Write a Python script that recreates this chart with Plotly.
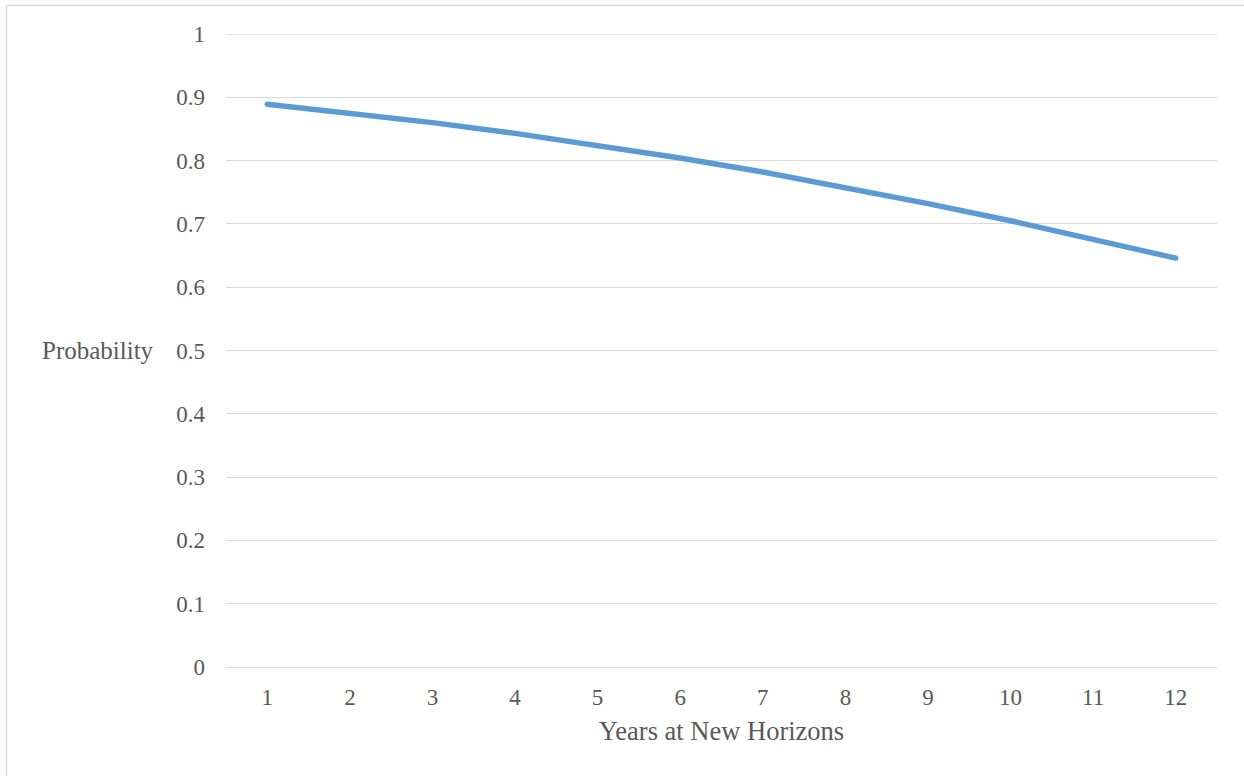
import plotly.graph_objects as go

years = [1, 2, 3, 4, 5, 6, 7, 8, 9, 10, 11, 12]
probability = [0.889, 0.875, 0.860, 0.843, 0.824, 0.804, 0.782, 0.758, 0.732, 0.705, 0.676, 0.646]
y_ticks = [0, 0.1, 0.2, 0.3, 0.4, 0.5, 0.6, 0.7, 0.8, 0.9, 1]
y_tick_labels = ["0", "0.1", "0.2", "0.3", "0.4", "0.5", "0.6", "0.7", "0.8", "0.9", "1"]

W, H = 1244, 776
L, R, T, B = 226, 27, 34, 109
pw, ph = W - L - R, H - T - B

font_family = "Liberation Serif, Times New Roman, serif"
text_color = "#595959"
grid_color = "#D9D9D9"

fig = go.Figure()
fig.add_trace(go.Scatter(
    x=years, y=probability, mode="lines",
    line=dict(color="#5B9BD5", width=5.5),
    showlegend=False, hoverinfo="skip",
))

fig.update_layout(
    width=W, height=H,
    margin=dict(l=L, r=R, t=T, b=B),
    paper_bgcolor="white", plot_bgcolor="white",
    font=dict(family=font_family, color=text_color, size=23),
    xaxis=dict(
        range=[0.5, 12.5], tickmode="array", tickvals=years,
        ticktext=[str(v) for v in years],
        showgrid=False, zeroline=False, showline=False, ticks="",
        ticklabelstandoff=14,
        tickfont=dict(size=23, family=font_family, color=text_color),
        title=dict(text="Years at New Horizons", standoff=12,
                   font=dict(size=26.5, family=font_family, color=text_color)),
        fixedrange=True,
    ),
    yaxis=dict(
        range=[0, 1], tickmode="array", tickvals=y_ticks, ticktext=y_tick_labels,
        showgrid=True, gridcolor=grid_color, gridwidth=1.3,
        zeroline=True, zerolinecolor=grid_color, zerolinewidth=1.3,
        showline=False, ticks="", ticklabelstandoff=20,
        tickfont=dict(size=23, family=font_family, color=text_color),
        fixedrange=True,
    ),
    annotations=[dict(
        text="Probability", xref="paper", yref="paper",
        x=(156 - L) / pw, y=0.5, xanchor="right", yanchor="middle",
        showarrow=False, font=dict(size=25, family=font_family, color=text_color),
    )],
    shapes=[
        dict(type="line", xref="paper", yref="y", x0=0, x1=1,
             y0=y_ticks[-1], y1=y_ticks[-1], layer="below",
             line=dict(color=grid_color, width=1.3)),
        dict(type="line", xref="paper", yref="paper",
             x0=(6.5 - L) / pw, x1=(W + 10 - L) / pw,
             y0=1 + (T - 5.5) / ph, y1=1 + (T - 5.5) / ph,
             line=dict(color="#D9D9D9", width=1.5)),
        dict(type="line", xref="paper", yref="paper",
             x0=(6.5 - L) / pw, x1=(6.5 - L) / pw,
             y0=1 + (T - 5.5) / ph, y1=-(B + 10) / ph,
             line=dict(color="#D9D9D9", width=1.5)),
    ],
)

fig.write_html(
    "out.html",
    config={"displayModeBar": False},
    post_script="document.body.style.margin='0';document.body.style.overflow='hidden';"
                "document.querySelectorAll('.scatterlayer path.js-line').forEach(function(p){p.style.strokeLinecap='round';p.style.strokeLinejoin='round';});",
)
